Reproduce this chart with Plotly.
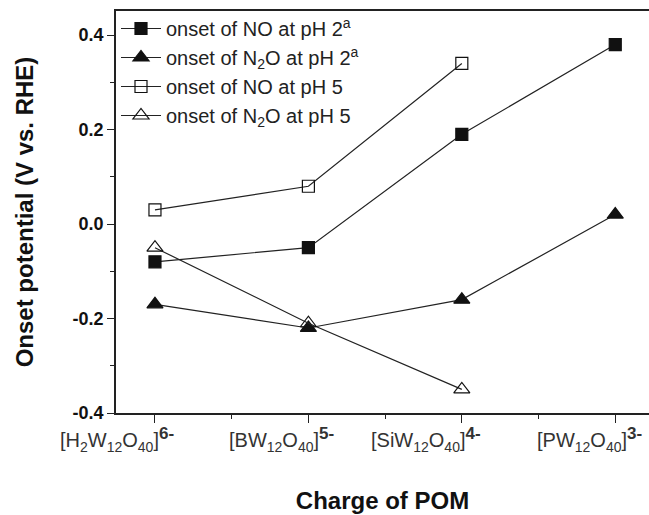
import plotly.graph_objects as go

# data
categories = [0, 1, 2, 3]
tick_labels = [
    "[H<sub>2</sub>W<sub>12</sub>O<sub>40</sub>]<sup><span style='font-size:17px'><b>6-</b></span></sup>",
    "[BW<sub>12</sub>O<sub>40</sub>]<sup><span style='font-size:17px'><b>5-</b></span></sup>",
    "[SiW<sub>12</sub>O<sub>40</sub>]<sup><span style='font-size:17px'><b>4-</b></span></sup>",
    "[PW<sub>12</sub>O<sub>40</sub>]<sup><span style='font-size:17px'><b>3-</b></span></sup>",
]
label_shift = [-38, -27, -36, -26]
no_ph2 = [-0.08, -0.05, 0.19, 0.38]
n2o_ph2 = [-0.17, -0.22, -0.16, 0.02]
no_ph5 = [0.03, 0.08, 0.34]
n2o_ph5 = [-0.05, -0.21, -0.35]

series = [
    ("onset of NO at pH 2<sup>a</sup>", no_ph2, "square", 12),
    ("onset of N<sub>2</sub>O at pH 2<sup>a</sup>", n2o_ph2, "triangle-up", 14),
    ("onset of NO at pH 5", no_ph5, "square-open", 12),
    ("onset of N<sub>2</sub>O at pH 5", n2o_ph5, "triangle-up-open", 14),
]

fig = go.Figure()
for name, vals, sym, sz in series:
    fig.add_trace(
        go.Scatter(
            x=categories[: len(vals)],
            y=vals,
            name=name,
            mode="lines+markers",
            line=dict(color="#222222", width=1.2),
            marker=dict(symbol=sym, size=sz, color="#111111", line=dict(color="#111111", width=1.2)),
        )
    )

# category labels under the axis
for c, lab, sh in zip(categories, tick_labels, label_shift):
    fig.add_annotation(
        x=c, y=0, xref="x", yref="paper",
        text=lab, showarrow=False,
        xanchor="center", yanchor="top",
        xshift=sh, yshift=-9,
        font=dict(size=20, color="#333333"),
    )

fig.update_layout(
    width=649,
    height=515,
    margin=dict(l=116, r=0, t=11, b=102),
    paper_bgcolor="white",
    plot_bgcolor="white",
    font=dict(family="Liberation Sans, Arial", color="#111111"),
    legend=dict(
        x=0.0,
        y=1.005,
        xanchor="left",
        yanchor="top",
        bgcolor="rgba(0,0,0,0)",
        font=dict(size=20, color="#222222"),
        tracegroupgap=0,
        itemwidth=40,
    ),
    showlegend=True,
)

fig.update_xaxes(
    range=[-0.254, 3.22],
    tickvals=categories,
    ticktext=["", "", "", ""],
    ticks="outside",
    ticklen=8,
    tickwidth=1,
    tickcolor="#222222",
    showline=True,
    linecolor="#222222",
    linewidth=1.5,
    mirror=True,
    showgrid=False,
    zeroline=False,
    automargin=False,
    minor=dict(tickvals=[0.5, 1.5, 2.5], ticks="outside", ticklen=4, tickcolor="#222222"),
    title=dict(text="<b>Charge of POM</b>", font=dict(size=24), standoff=68),
)
fig.update_yaxes(
    range=[-0.4, 0.451],
    tickvals=[-0.4, -0.2, 0.0, 0.2, 0.4],
    ticktext=["<b>-0.4</b>", "<b>-0.2</b>", "<b>0.0</b>", "<b>0.2</b>", "<b>0.4</b>"],
    tickfont=dict(size=18),
    ticks="outside",
    ticklen=7,
    tickwidth=1,
    tickcolor="#222222",
    showline=True,
    linecolor="#222222",
    linewidth=1.5,
    showgrid=False,
    zeroline=False,
    automargin=False,
    minor=dict(tickvals=[-0.3, -0.1, 0.1, 0.3], ticks="outside", ticklen=4, tickcolor="#222222"),
    title=dict(text="<b>Onset potential (V vs. RHE)</b>", font=dict(size=24), standoff=32),
)

fig.write_html(
    "out.html",
    config={"displayModeBar": False},
    post_script="document.body.style.margin='0';",
)
